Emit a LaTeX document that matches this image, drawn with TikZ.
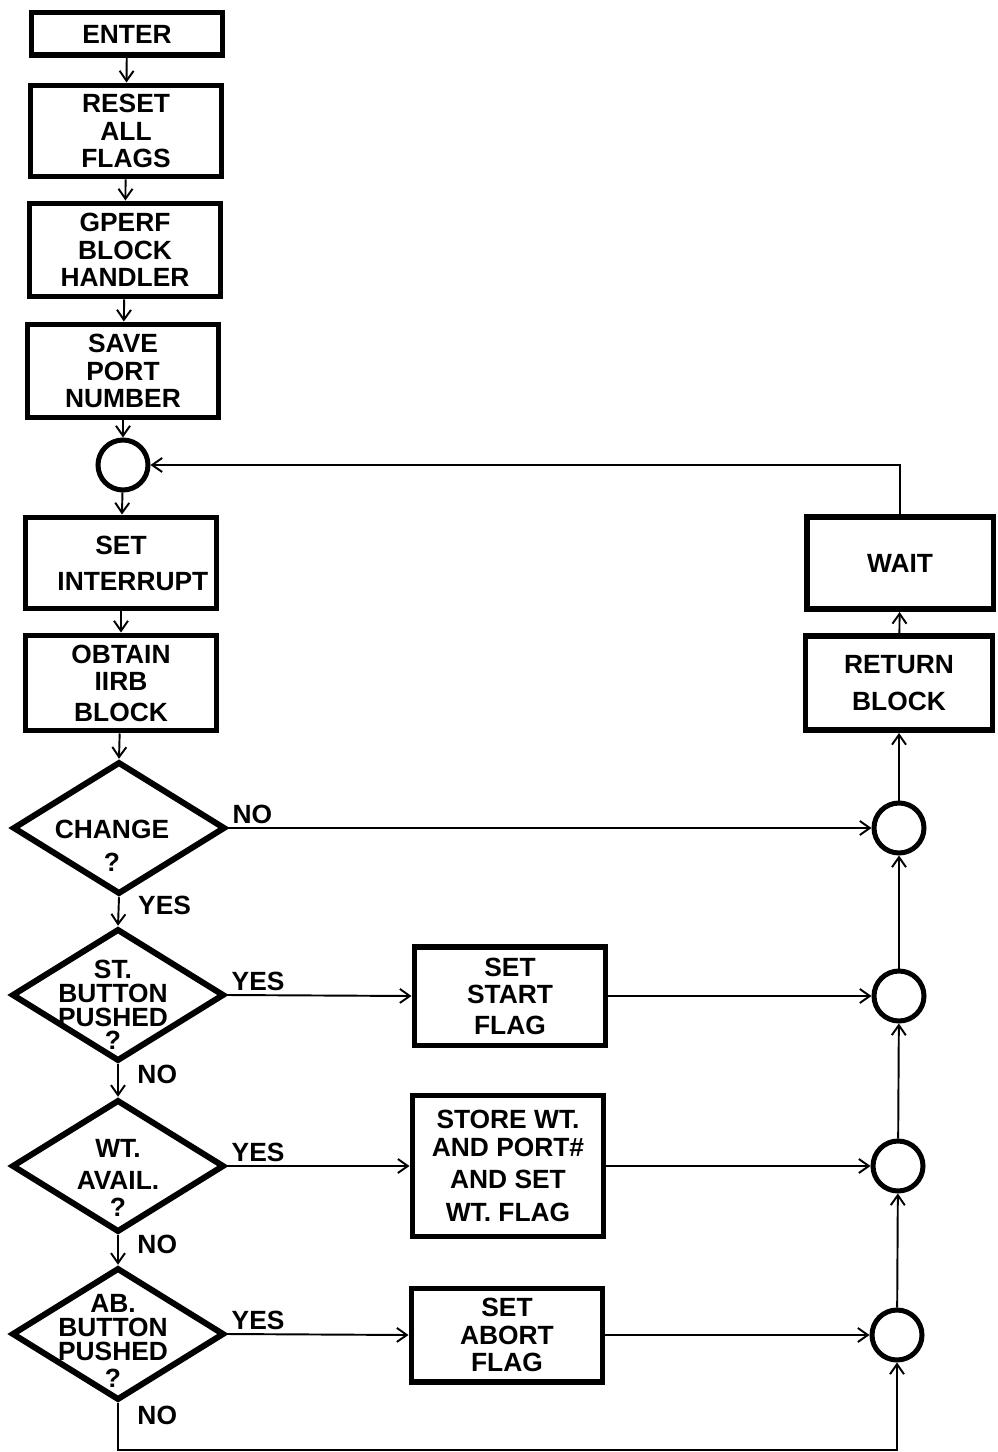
\documentclass[tikz,border=0pt]{standalone}
\usepackage{fontspec}
\setmainfont{Liberation Sans}
\usetikzlibrary{shapes.geometric,arrows.meta}

\begin{document}
\begin{tikzpicture}[x=0.02cm, y=-0.02cm,
  font=\fontsize{15}{15.5}\selectfont\bfseries,
  >={Straight Barb[length=2mm,width=2.8mm]},
  box/.style={draw, line width=0.11cm, minimum width=3.83cm, minimum height=#1,
    align=center, inner sep=0pt},
  box/.default=1.78cm,
  cond/.style={draw, diamond, line width=0.12cm, minimum width=4.25cm,
    minimum height=2.65cm, inner sep=0pt},
  condtext/.style={align=center, inner sep=0pt},
  junc/.style={draw, circle, line width=0.1cm, minimum size=1cm, inner sep=0pt},
  flow/.style={line width=1.1pt},
  lbl/.style={inner sep=2pt}]
  \useasboundingbox (0,0) rectangle (997,1452);
  % Main column
  \node[box=0.85cm] (enter) at (127,34) {ENTER};
  \node[box=1.83cm] (reset) at (126,131) {RESET\\ALL\\FLAGS};
  \node[box=1.87cm] (gperf) at (125,250) {GPERF\\BLOCK\\HANDLER};
  \node[box=1.87cm] (save) at (123,371) {SAVE\\PORT\\NUMBER};
  \node[junc] (jn0) at (123,465) {};
  \node[box=1.83cm] (setint) at (121,563) {SET\\[5pt]\hspace*{0.9em}INTERRUPT};
  \node[box=1.91cm] (obtain) at (121,683) {OBTAIN\\IIRB\\[2pt]BLOCK};
  % Decisions
  \node[cond] (chg) at (119,828) {};
  \node[condtext] (chgt) at (112,846) {CHANGE\\[3pt]?};
  \node[cond] (st) at (118,995) {};
  \node[condtext, font=\fontsize{15}{13.5}\selectfont\bfseries] (stt) at (113,1005)
    {ST.\\BUTTON\\PUSHED\\?};
  \node[cond] (wt) at (118,1166) {};
  \node[condtext] (wtt) at (118,1178) {WT.\\[3pt]AVAIL.\\?};
  \node[cond] (ab) at (118,1334) {};
  \node[condtext, font=\fontsize{15}{13.5}\selectfont\bfseries] (abt) at (113,1341)
    {AB.\\BUTTON\\PUSHED\\[2pt]?};
  % Flag boxes
  \node[box=1.97cm] (startf) at (510,996) {SET\\START\\[2pt]FLAG};
  \node[box=2.83cm] (storef) at (508,1166) {STORE WT.\\AND PORT\#\\[3pt]AND SET\\[3pt]WT. FLAG};
  \node[box=1.87cm] (abortf) at (507,1335) {SET\\ABORT\\FLAG};
  % Right column
  \node[junc] (j1) at (899,828) {};
  \node[junc] (j2) at (899,996) {};
  \node[junc] (j3) at (898,1166) {};
  \node[junc] (j4) at (897,1335) {};
  \node[box=1.89cm, minimum width=3.75cm] (ret) at (899,683) {RETURN\\[6pt]BLOCK};
  \node[box=1.85cm, minimum width=3.73cm] (wait) at (900,563) {WAIT};
  % Down the main column
  \draw[flow,->] (enter) -- (reset);
  \draw[flow,->] (reset) -- (gperf);
  \draw[flow,->] (gperf) -- (save);
  \draw[flow,->] (save) -- (jn0);
  \draw[flow,->] (jn0) -- (setint);
  \draw[flow,->] (setint) -- (obtain);
  \draw[flow,->] (obtain) -- (chg.north);
  \draw[flow,->] (chg.south) -- node[lbl, right, xshift=0.3cm, pos=0.3] (l1) {YES} (st.north);
  \draw[flow,->] (st.south) -- node[lbl, right, xshift=0.3cm, pos=0.3] (l2) {NO} (wt.north);
  \draw[flow,->] (wt.south) -- node[lbl, right, xshift=0.3cm, pos=0.3] (l3) {NO} (ab.north);
  % Branches to the right
  \draw[flow,->] (chg.east) -- node[lbl, above right, pos=0] (l4) {NO} (j1.west);
  \draw[flow,->] (st.east) -- node[lbl, above right, pos=0] (l5) {YES} (startf.west);
  \draw[flow,->] (wt.east) -- node[lbl, above right, pos=0] (l6) {YES} (storef.west);
  \draw[flow,->] (ab.east) -- node[lbl, above right, pos=0] (l7) {YES} (abortf.west);
  \draw[flow,->] (startf.east) -- (j2.west);
  \draw[flow,->] (storef.east) -- (j3.west);
  \draw[flow,->] (abortf.east) -- (j4.west);
  \draw[flow,->] (ab.south) -- node[lbl, right, xshift=0.3cm, pos=0.25] (l8) {NO}
    ++(0,47) -| (j4.south);
  % Up the right column and back
  \draw[flow,->] (j4) -- (j3);
  \draw[flow,->] (j3) -- (j2);
  \draw[flow,->] (j2) -- (j1);
  \draw[flow,->] (j1) -- (ret);
  \draw[flow,->] (ret) -- (wait);
  \draw[flow,->] (wait.north) |- (jn0.east);
\end{tikzpicture}
\end{document}
